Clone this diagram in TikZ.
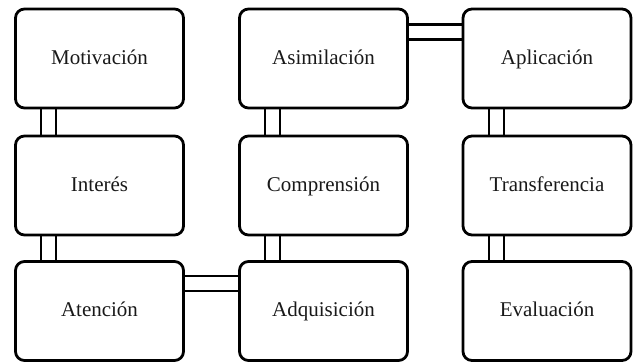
\documentclass[tikz,border=0pt]{standalone}
\usepackage{fontspec}
\setmainfont{Liberation Serif}
\begin{document}
\begin{tikzpicture}[x=1pt,y=1pt,
  box/.style={draw=black, line width=2.8pt, rounded corners=9pt, minimum width=168pt, minimum height=99pt, inner sep=0pt, text height=1.15em, text depth=0pt, text=black!90, font=\fontsize{21}{24}\selectfont},
  link/.style={draw=black, line width=2.2pt}]
\useasboundingbox (0,0) rectangle (635,-363);
\node[box] (mot) at (99.5,-58.5) {Motivación};
\node[box] (int) at (99.5,-185.5) {Interés};
\node[box] (ate) at (99.5,-311) {Atención};
\node[box] (asi) at (323.5,-58.5) {Asimilación};
\node[box] (com) at (323.5,-185.5) {Comprensión};
\node[box] (adq) at (323.5,-311) {Adquisición};
\node[box] (apl) at (547,-58.5) {Aplicación};
\node[box] (tra) at (547,-185.5) {Transferencia};
\node[box] (eva) at (547,-311) {Evaluación};
% vertical double links
\foreach \a/\b in {mot/int,int/ate,asi/com,com/adq,apl/tra,tra/eva}{
  \draw[link] ([xshift=27pt]\a.south west) -- ([xshift=27pt]\b.north west);
  \draw[link] ([xshift=42pt]\a.south west) -- ([xshift=42pt]\b.north west);
}
% horizontal double links
\draw[link] ([yshift=-17pt]asi.north east) -- ([yshift=-17pt]apl.north west);
\draw[link] ([yshift=-32pt]asi.north east) -- ([yshift=-32pt]apl.north west);
\draw[link] ([yshift=-16pt]ate.north east) -- ([yshift=-16pt]adq.north west);
\draw[link] ([yshift=-31pt]ate.north east) -- ([yshift=-31pt]adq.north west);
\end{tikzpicture}
\end{document}
